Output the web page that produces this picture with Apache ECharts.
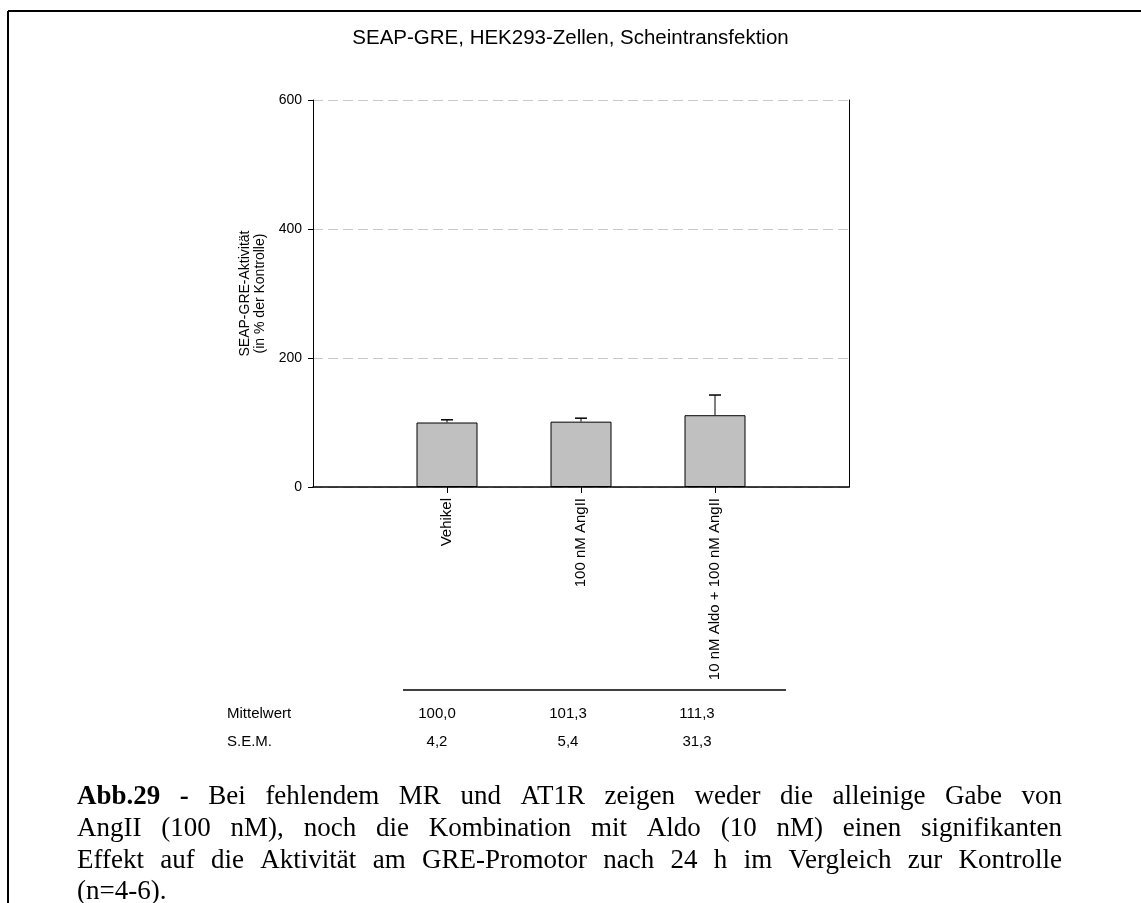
<!DOCTYPE html>
<html><head><meta charset="utf-8">
<script src="https://cdn.jsdelivr.net/npm/echarts@6/dist/echarts.min.js"></script>
<style>html,body{margin:0;padding:0;background:#fff}#c{width:1141px;height:903px}</style>
</head><body><div id="c"></div>
<script>
const chartTitle = 'SEAP-GRE, HEK293-Zellen, Scheintransfektion';
const categories = ['Vehikel', '100 nM AngII', '10 nM Aldo + 100 nM AngII'];
const means = [100.0, 101.3, 111.3];
const sems = [4.2, 5.4, 31.3];
const yTickValues = [0, 200, 400, 600];
const yAxisNameLines = ['SEAP-GRE-Aktivität', '(in % der Kontrolle)'];
const tableRowLabels = ['Mittelwert', 'S.E.M.'];
const captionBold = 'Abb.29 -';
const captionLines = [
  'Bei fehlendem MR und AT1R zeigen weder die alleinige Gabe von',
  'AngII (100 nM), noch die Kombination mit Aldo (10 nM) einen signifikanten',
  'Effekt auf die Aktivität am GRE-Promotor nach 24 h im Vergleich zur Kontrolle',
  '(n=4-6).'
];

const fmt = v => v.toFixed(1).replace('.', ',');
const sans = '"Liberation Sans", Arial, sans-serif';
const serif = '"Liberation Serif", "Times New Roman", serif';

// layout
const capFont = 27, capLeft = 77, capRight = 1062, capY = [797, 829, 861, 892];
const tableColX = [437, 568, 697];
const tableRowY = [714, 742];

const ctx = document.createElement('canvas').getContext('2d');
function measure(t, bold) { ctx.font = (bold ? 'bold ' : '') + capFont + 'px ' + serif; return ctx.measureText(t).width; }

const graphics = [];
graphics.push({type:'line', shape:{x1:8,y1:11,x2:1141,y2:11}, style:{stroke:'#000', lineWidth:2}});
graphics.push({type:'line', shape:{x1:8,y1:11,x2:8,y2:903}, style:{stroke:'#000', lineWidth:2}});
graphics.push({type:'line', shape:{x1:403,y1:690,x2:786,y2:690}, style:{stroke:'#000', lineWidth:1.5}});
tableRowLabels.forEach((lab, r) => {
  graphics.push({type:'text', x:227, y:tableRowY[r], style:{text:lab, font:'15px ' + sans, fill:'#000', textAlign:'left', textVerticalAlign:'middle'}});
  const vals = r === 0 ? means : sems;
  vals.forEach((v, i) => {
    graphics.push({type:'text', x:tableColX[i], y:tableRowY[r], style:{text:fmt(v), font:'15px ' + sans, fill:'#000', textAlign:'center', textVerticalAlign:'middle'}});
  });
});
// caption, justified
captionLines.forEach((line, li) => {
  const words = [];
  if (li === 0) captionBold.split(' ').forEach(w => words.push({t:w, b:true}));
  line.split(' ').forEach(w => words.push({t:w, b:false}));
  const widths = words.map(w => measure(w.t, w.b));
  const total = widths.reduce((a, b) => a + b, 0);
  const justify = li < captionLines.length - 1;
  const gap = justify ? (capRight - capLeft - total) / (words.length - 1) : measure(' ', false);
  let x = capLeft;
  words.forEach((w, i) => {
    graphics.push({type:'text', x:x, y:capY[li], style:{text:w.t, font:(w.b ? 'bold ' : '') + capFont + 'px ' + serif, fill:'#000', textAlign:'left', textVerticalAlign:'middle'}});
    x += widths[i] + gap;
  });
});

const axisCats = [''].concat(categories, ['']);
const chart = echarts.init(document.getElementById('c'), null, {renderer:'canvas'});
chart.setOption({
  backgroundColor:'#fff',
  animation:false,
  title:{text:chartTitle, left:'center', top:23, textStyle:{fontFamily:sans, fontSize:20.5, fontWeight:'normal', color:'#000'}},
  grid:{left:313, top:100, width:536, height:387, containLabel:false},
  xAxis:{type:'category', data:axisCats, boundaryGap:false,
    axisLine:{lineStyle:{color:'#000', width:1.5}},
    axisTick:{show:true, length:6, interval:(i) => i >= 1 && i <= categories.length, lineStyle:{color:'#000'}},
    axisLabel:{interval:0, rotate:90, margin:11, fontFamily:sans, fontSize:15, color:'#000'},
    splitLine:{show:false}},
  yAxis:[{type:'value', min:yTickValues[0], max:yTickValues[yTickValues.length-1], interval:yTickValues[1]-yTickValues[0],
    name:yAxisNameLines.join('\n'), nameLocation:'middle', nameGap:45,
    nameTextStyle:{fontFamily:sans, fontSize:14, color:'#000', lineHeight:15},
    axisLine:{show:true, lineStyle:{color:'#000'}},
    axisTick:{show:true, length:5, lineStyle:{color:'#000'}},
    axisLabel:{fontFamily:sans, fontSize:14, color:'#000', margin:11},
    splitLine:{show:true, lineStyle:{color:'#c8c8c8', type:[10,5]}}},
   {type:'value', position:'right', min:yTickValues[0], max:yTickValues[yTickValues.length-1], interval:yTickValues[1]-yTickValues[0],
    axisLine:{show:true, lineStyle:{color:'#000'}}, axisTick:{show:false}, axisLabel:{show:false}, splitLine:{show:false}}],
  series:[
    {type:'bar', data:[null].concat(means, [null]), barWidth:61,
     itemStyle:{color:'#c0c0c0', borderColor:'#000', borderWidth:1}},
    {type:'custom', z:5, data:means.map((m, i) => [i + 1, m, sems[i]]),
     renderItem:(params, api) => {
       const x = api.value(0), m = api.value(1), s = api.value(2);
       const p0 = api.coord([x, m]), p1 = api.coord([x, m + s]);
       return {type:'group', children:[
         {type:'line', shape:{x1:p0[0], y1:p0[1], x2:p1[0], y2:p1[1]}, style:{stroke:'#000', lineWidth:1}},
         {type:'line', shape:{x1:p1[0]-6, y1:p1[1], x2:p1[0]+6, y2:p1[1]}, style:{stroke:'#000', lineWidth:1.5}}
       ]};
     }}
  ],
  graphic:graphics
});
</script></body></html>
